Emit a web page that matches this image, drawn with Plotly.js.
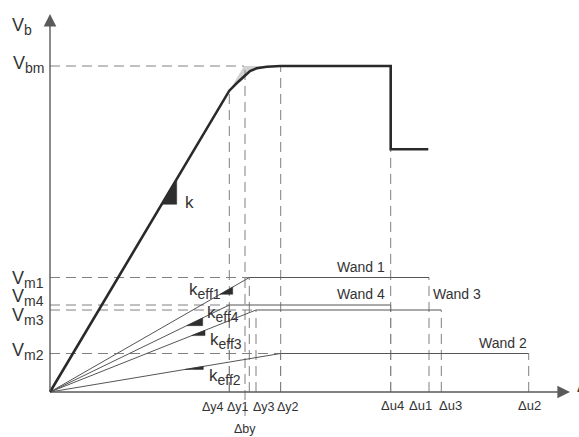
<!DOCTYPE html>
<html><head><meta charset="utf-8">
<script src="https://cdn.plot.ly/plotly-3.0.1.min.js"></script>
<style>body{margin:0;background:#fff}#c{width:579px;height:437px}</style>
</head><body><div id="c"></div>
<script>
// ---- data (schematic units) ----
const curveX = [0, 179.3, 188.3, 200, 206.7, 216.7, 230.7, 340.7, 340.7, 378.3];
const curveY = [0, 301.3, 310.3, 321, 323.7, 325.3, 326, 326, 242.7, 242.7];
const Vbm = 326;
const dBy = 195;
const greyX = [179.3, 194, 230.7, 216.7, 206.7, 200, 188.3, 179.3];
const greyY = [301.3, 326, 326, 325.3, 323.7, 321, 310.3, 301.3];
const wallNames = ["Wand 1", "Wand 2", "Wand 3", "Wand 4"];
const wallVm = [114.5, 38.5, 82, 87];
const wallDy = [199.3, 230.5, 206, 179.3];
const wallDu = [379, 478.7, 391.3, 340.7];
const vmSubs = ["m1", "m2", "m3", "m4"];
const keffSubs = ["eff1", "eff2", "eff3", "eff4"];
const dyLabels = ["Δy1", "Δy2", "Δy3", "Δy4"];
const duLabels = ["Δu1", "Δu2", "Δu3", "Δu4"];

// ---- styling / positions ----
const FONT = "Liberation Sans, Arial, sans-serif";
const TXT = "#333";
const DASH = "10px,6px";
const dashCol = "#808080";
const traces = [];
const sub = (base, s, fs) => base + "<sub><span style='font-size:" + fs + "px'>" + s + "</span></sub>";

// grey region
traces.push({x: greyX, y: greyY, mode: "lines", fill: "toself", fillcolor: "#d2d2d2", line: {width: 0}, hoverinfo: "skip"});

// horizontal dashed lines
const hx = [0, dBy - 1, null], hy = [Vbm, Vbm, null];
wallVm.forEach((v, i) => { hx.push(0, wallDy[i], null); hy.push(v, v, null); });
traces.push({x: hx, y: hy, mode: "lines", line: {color: dashCol, width: 1, dash: DASH}, hoverinfo: "skip"});

// vertical dashed lines
const vx = [], vy = [];
function vline(x, y0, y1) { vx.push(x, x, null); vy.push(y0, y1, null); }
vline(curveX[1], 0, curveY[1]);
vline(dBy, -24, Vbm - 4);
vline(curveX[6], 0, Vbm);
vline(curveX[7], 0, curveY[8]);
wallVm.forEach((v, i) => { vline(wallDy[i], 0, v); vline(wallDu[i], 0, v); });
traces.push({x: vx, y: vy, mode: "lines", line: {color: dashCol, width: 1, dash: DASH}, hoverinfo: "skip"});

// wall curves
wallVm.forEach((v, i) => {
  traces.push({x: [0, wallDy[i], wallDu[i]], y: [0, v, v], mode: "lines", line: {color: "#555", width: 1}, hoverinfo: "skip"});
});

// main curve
traces.push({x: curveX, y: curveY, mode: "lines", line: {color: "#2a2a2a", width: 2.6}, hoverinfo: "skip"});

// slope triangles
function tri(slope, x1, x2) {
  traces.push({x: [x1, x2, x2, x1], y: [slope * x1, slope * x2, slope * x1, slope * x1], mode: "lines",
    fill: "toself", fillcolor: "#2e2e2e", line: {color: "#2e2e2e", width: 0.5}, hoverinfo: "skip"});
}
tri(curveY[1] / curveX[1], 111.7, 126.7);
const triSpan = [[170, 182.7], [135, 153.3], [141.7, 155], [136.7, 152.7]];
wallVm.forEach((v, i) => tri(v / wallDy[i], triSpan[i][0], triSpan[i][1]));

// annotations
const ann = [];
function txt(t, x, y, size, xa, ya) {
  ann.push({text: t, x: x, y: y, xref: "x", yref: "y", showarrow: false, xanchor: xa || "center", yanchor: ya || "middle",
    font: {family: FONT, size: size, color: TXT}});
}
// axes arrows
ann.push({x: 0, y: 378, ax: 0, ay: -0.5, xref: "x", yref: "y", axref: "x", ayref: "y", text: "", showarrow: true,
  arrowhead: 2, arrowsize: 1.8, arrowwidth: 1.4, arrowcolor: "#5a5a5a"});
ann.push({x: 520, y: 0, ax: -0.5, ay: 0, xref: "x", yref: "y", axref: "x", ayref: "y", text: "", showarrow: true,
  arrowhead: 2, arrowsize: 1.8, arrowwidth: 1.4, arrowcolor: "#5a5a5a"});

txt(sub("V", "b", 14), -16, 366, 18, "right");
txt(sub("V", "bm", 14), -4, 328, 18, "right");
const vmY = [113, 41, 76, 95];
vmSubs.forEach((s, i) => txt(sub("V", s, 14), -4, vmY[i], 18, "right"));
txt("k", 139, 190, 17, "center");
const keffPos = [[137, 101], [157, 15], [158, 51], [155, 78]];
keffSubs.forEach((s, i) => txt(sub("k", s, 14), keffPos[i][0], keffPos[i][1], 17, "left"));
const wandPos = [[311, 125], [453, 49], [407, 98], [311, 98]];
wallNames.forEach((t, i) => txt(t, wandPos[i][0], wandPos[i][1], 14, "center"));
const dyPos = [188, 238, 214, 163];
dyLabels.forEach((t, i) => txt(t, dyPos[i], -15, 12.5, "center"));
txt("Δby", dBy, -37, 12.5, "center");
const duPos = [370, 479, 400, 342];
duLabels.forEach((t, i) => txt(t, duPos[i], -13, 13, "center"));
txt("Δu", 525, 5, 14, "left");

const layout = {
  width: 579, height: 437, margin: {l: 0, r: 0, t: 0, b: 0},
  xaxis: {range: [-50, 529], visible: false, fixedrange: true},
  yaxis: {range: [-45, 392], visible: false, fixedrange: true},
  showlegend: false, paper_bgcolor: "#fff", plot_bgcolor: "#fff",
  annotations: ann
};
Plotly.newPlot("c", traces, layout, {staticPlot: true});
</script></body></html>
